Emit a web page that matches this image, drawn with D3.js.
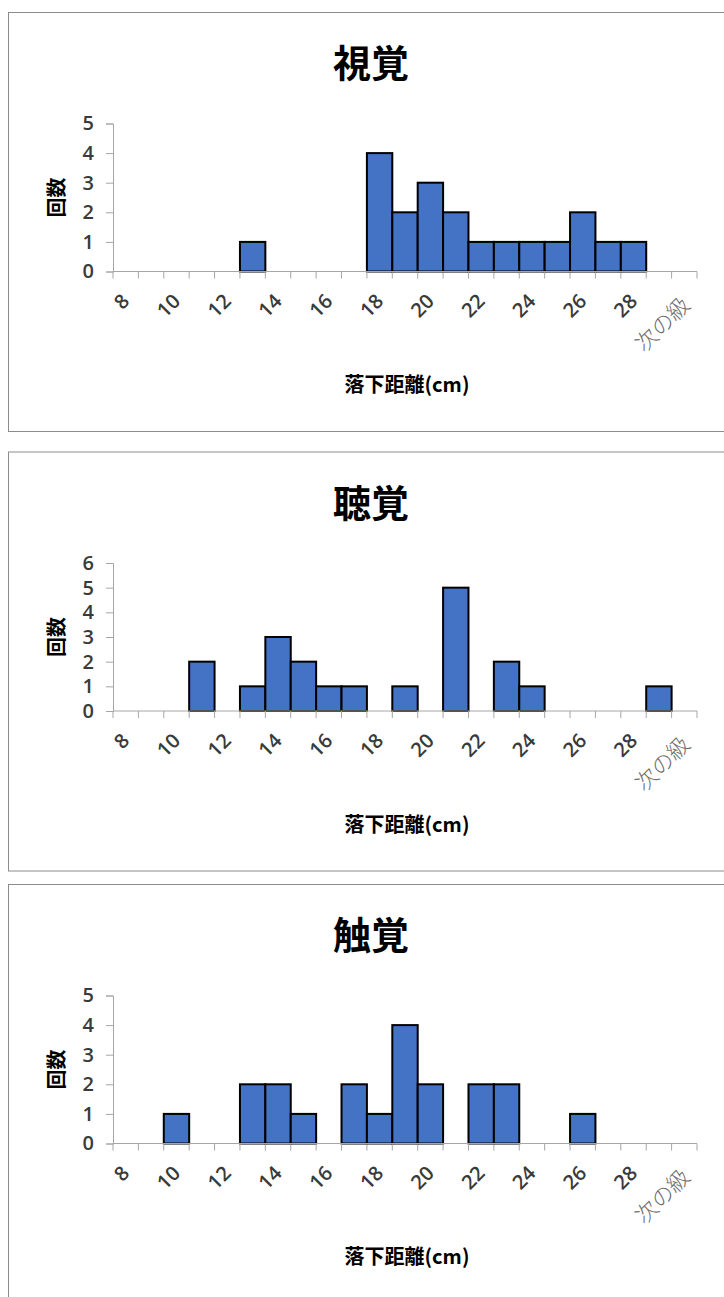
<!DOCTYPE html>
<html>
<head>
<meta charset="utf-8">
<script src="https://cdn.jsdelivr.net/npm/d3@7"></script>
<style>
  html, body { margin: 0; padding: 0; background: #fff; }
  svg { display: block; }
</style>
</head>
<body>
<svg id="chart" width="724" height="1297"></svg>
<script>
// ---- data ----
const categories = ["8","9","10","11","12","13","14","15","16","17","18","19","20","21","22","23","24","25","26","27","28","29","次の級"];
const tickLabels = ["8","10","12","14","16","18","20","22","24","26","28","次の級"];
const panelTitles = ["視覚", "聴覚", "触覚"];
const visionCounts  = [0,0,0,0,0,1,0,0,0,0,4,2,3,2,1,1,1,1,2,1,1,0,0];
const hearingCounts = [0,0,0,2,0,1,3,2,1,1,0,1,0,5,0,2,1,0,0,0,0,1,0];
const touchCounts   = [0,0,1,0,0,2,2,1,0,2,1,4,2,0,2,2,0,0,1,0,0,0,0];
const yMaxes = [5, 6, 5];
const xAxisTitle = "落下距離(cm)";
const yAxisTitle = "回数";

const seriesList = [visionCounts, hearingCounts, touchCounts];
const panelTops = [12, 451.5, 884];

const svg = d3.select("#chart");
const CJK = "'Noto Sans CJK JP', 'Noto Sans', sans-serif";
const NUM = "'Open Sans', 'Noto Sans', sans-serif";

const x = d3.scaleBand().domain(categories).range([113, 697]).paddingInner(0).paddingOuter(0);

seriesList.forEach((vals, p) => {
  const T = panelTops[p];
  const g = svg.append("g");
  // panel border
  g.append("rect")
    .attr("x", 8.5).attr("y", T + 0.5)
    .attr("width", 730).attr("height", 419)
    .attr("fill", "#fff").attr("stroke", "#8c8c8c").attr("stroke-width", 1);

  // title
  g.append("text")
    .attr("x", 371).attr("y", T + 65)
    .attr("text-anchor", "middle")
    .style("font-family", CJK).style("font-weight", "bold").style("font-size", "38px")
    .attr("fill", "#000")
    .text(panelTitles[p]);

  const y = d3.scaleLinear().domain([0, yMaxes[p]]).range([T + 259.5, T + 111.5]);

  // bars
  g.selectAll("rect.bar").data(vals.map((v, i) => ({c: categories[i], v})).filter(d => d.v > 0))
    .join("rect").attr("class", "bar")
    .attr("x", d => x(d.c)).attr("width", x.bandwidth())
    .attr("y", d => y(d.v)).attr("height", d => y(0) - y(d.v))
    .attr("fill", "#4472C4").attr("stroke", "#000").attr("stroke-width", 2);

  // y axis
  const yAxis = d3.axisLeft(y).ticks(yMaxes[p]).tickSize(7).tickPadding(12).tickFormat(d3.format("d"));
  const ya = g.append("g").attr("transform", "translate(113,0)").call(yAxis);
  ya.select(".domain").attr("stroke", "#a6a6a6");
  ya.selectAll(".tick line").attr("stroke", "#a6a6a6");
  ya.selectAll(".tick text").style("font-family", NUM).style("font-size", "20px")
    .style("font-weight", "600").attr("fill", "#3a3a3a");

  // x axis line + ticks at band boundaries
  const zeroY = y(0);
  g.append("line").attr("x1", 113).attr("x2", 697).attr("y1", zeroY).attr("y2", zeroY)
    .attr("stroke", "#a6a6a6").attr("stroke-width", 1);
  const bounds = categories.map(c => x(c)).concat([x(categories[categories.length - 1]) + x.bandwidth()]);
  g.selectAll("line.xt").data(bounds).join("line").attr("class", "xt")
    .attr("x1", d => d).attr("x2", d => d).attr("y1", zeroY).attr("y2", zeroY + 7)
    .attr("stroke", "#a6a6a6").attr("stroke-width", 1);

  // x tick labels (every other category)
  const xAxis = d3.axisBottom(x).tickValues(categories.filter(c => tickLabels.includes(c))).tickSize(0);
  const xa = g.append("g").attr("transform", `translate(0,${zeroY})`).call(xAxis);
  xa.select(".domain").remove();
  xa.selectAll(".tick text")
    .attr("text-anchor", "end")
    .attr("dy", 0)
    .attr("y", 0)
    .attr("transform", d => d === "次の級" ? "translate(7,35) rotate(-45)" : "translate(5,31) rotate(-45)")
    .style("font-family", d => d === "次の級" ? CJK : NUM)
    .style("font-size", d => d === "次の級" ? "22px" : "20px")
    .style("font-weight", d => d === "次の級" ? "300" : "600")
    .attr("fill", d => d === "次の級" ? "#6e6e6e" : "#3a3a3a");

  // axis titles
  g.append("text")
    .attr("x", 407).attr("y", T + 380)
    .attr("text-anchor", "middle")
    .style("font-family", CJK).style("font-weight", "bold").style("font-size", "20px")
    .attr("fill", "#000")
    .text(xAxisTitle);
  g.append("text")
    .attr("transform", `translate(64,${T + 185.5}) rotate(-90)`)
    .attr("text-anchor", "middle")
    .style("font-family", CJK).style("font-weight", "bold").style("font-size", "20px")
    .attr("fill", "#000")
    .text(yAxisTitle);
});
</script>
</body>
</html>
